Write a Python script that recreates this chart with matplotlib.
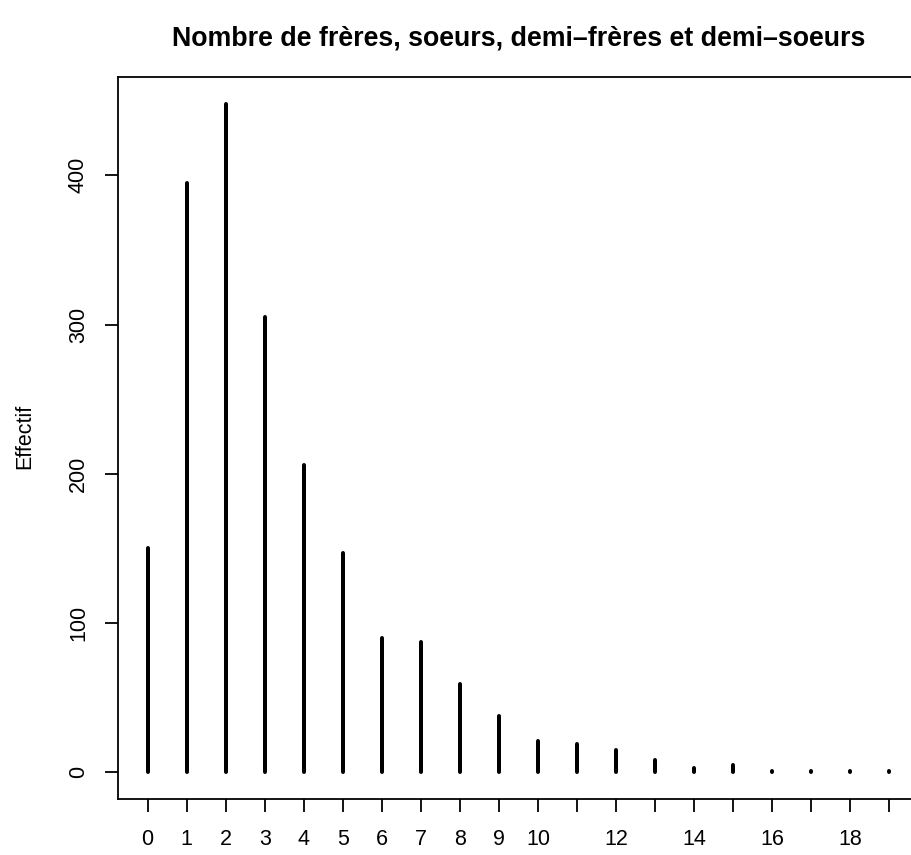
import matplotlib
matplotlib.use("Agg")
import matplotlib.pyplot as plt

plt.rcParams['font.family'] = ['Liberation Sans', 'DejaVu Sans']

nb_freres_soeurs = list(range(20))
effectifs = [150, 395, 448, 305, 206, 147, 90, 87, 59, 38,
             21, 19, 15, 8, 3, 5, 1, 1, 1, 1]
x_labels = ['0', '1', '2', '3', '4', '5', '6', '7', '8', '9',
            '10', '', '12', '', '14', '', '16', '', '18', '']
y_ticks = [0, 100, 200, 300, 400]

W, H, DPI = 911, 855, 72
fig = plt.figure(figsize=(W / DPI, H / DPI), dpi=DPI)

left_px, right_px, top_px, bottom_px = 118, 919, 77, 799
ax = fig.add_axes([left_px / W, 1 - bottom_px / H,
                   (right_px - left_px) / W, (bottom_px - top_px) / H])

ax.vlines(nb_freres_soeurs, 0, effectifs, colors='black', linewidth=4,
          capstyle='round')

xr = max(nb_freres_soeurs) - min(nb_freres_soeurs)
ax.set_xlim(min(nb_freres_soeurs) - 0.04 * xr, max(nb_freres_soeurs) + 0.04 * xr)
yr = max(effectifs)
ax.set_ylim(-0.04 * yr, yr * 1.04)

ax.set_xticks(nb_freres_soeurs)
ax.set_xticklabels(x_labels)
ax.set_yticks(y_ticks)
ax.set_yticklabels([str(v) for v in y_ticks], rotation=90, va='center')

ax.tick_params(axis='both', direction='out', length=13, width=1.8,
               labelsize=21.5, colors='black')
ax.tick_params(axis='x', pad=17)
ax.tick_params(axis='y', pad=16)
for s in ax.spines.values():
    s.set_linewidth(1.8)

fig.text((left_px + right_px) / 2 / W, 1 - 38 / H,
         'Nombre de frères, soeurs, demi\u2013frères et demi\u2013soeurs',
         ha='center', va='center', fontsize=26.8, fontweight='bold')
fig.text(25 / W, 1 - 436 / H, 'Effectif', rotation=90,
         ha='center', va='center', fontsize=21.5)

fig.savefig('out.png', dpi=DPI)
